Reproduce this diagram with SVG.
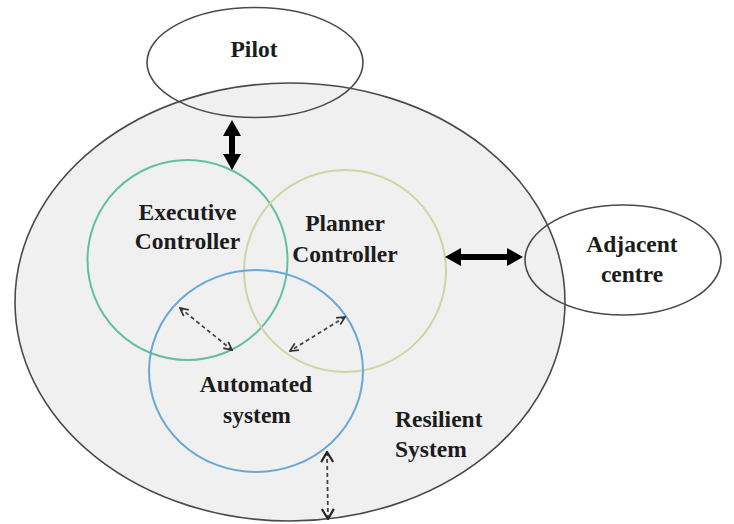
<svg xmlns="http://www.w3.org/2000/svg" width="734" height="524" viewBox="0 0 734 524">
  <style>
    .lbl { font-family: "Liberation Serif", "Times New Roman", serif; font-weight: bold; font-size: 23.5px; fill: #1c1c1c; }
    .outline { fill: none; stroke: #4a4a4a; stroke-width: 1.6; }
    .ring { fill: none; stroke-width: 2; }
    .thick { stroke: #000; stroke-width: 6; fill: none; }
    .dash { stroke: #454545; stroke-width: 1.8; stroke-dasharray: 4 3; fill: none; }
  </style>
  <defs>
    <marker id="solidHead" markerUnits="userSpaceOnUse" viewBox="0 0 16 18" refX="5" refY="9" markerWidth="16" markerHeight="18" orient="auto-start-reverse">
      <path d="M0,0 L16,9 L0,18 z" fill="#000"/>
    </marker>
    <marker id="openHead" markerUnits="userSpaceOnUse" viewBox="0 0 10 10" refX="9" refY="5" markerWidth="10" markerHeight="10" orient="auto-start-reverse">
      <path d="M1,1 L9,5 L1,9" fill="none" stroke="#333" stroke-width="1.7"/>
    </marker>
    <marker id="openHeadLg" markerUnits="userSpaceOnUse" viewBox="0 0 12 14" refX="11" refY="7" markerWidth="12" markerHeight="14" orient="auto-start-reverse">
      <path d="M1,1 L11,7 L1,13" fill="none" stroke="#262626" stroke-width="2.2"/>
    </marker>
  </defs>

  <rect width="734" height="524" fill="#ffffff"/>

  <!-- outer system boundary -->
  <g id="resilient-system">
    <ellipse cx="290" cy="302" rx="275" ry="219" fill="#f0f0f0" stroke="#4a4a4a" stroke-width="1.6"/>
    <text class="lbl" x="395" y="427">Resilient</text>
    <text class="lbl" x="395" y="457">System</text>
  </g>

  <g id="executive-controller">
    <circle class="ring" cx="187.5" cy="260" r="100" stroke="#62c09c"/>
    <text class="lbl" x="187.5" y="220" text-anchor="middle">Executive</text>
    <text class="lbl" x="187.5" y="249" text-anchor="middle">Controller</text>
  </g>

  <g id="planner-controller">
    <circle class="ring" cx="345" cy="271" r="101" stroke="#cfd4a4"/>
    <text class="lbl" x="345" y="231" text-anchor="middle">Planner</text>
    <text class="lbl" x="345" y="262" text-anchor="middle">Controller</text>
  </g>

  <g id="automated-system">
    <ellipse class="ring" cx="256" cy="371" rx="107" ry="101" stroke="#68a8d6"/>
    <text class="lbl" x="256" y="392" text-anchor="middle">Automated</text>
    <text class="lbl" x="257" y="423" text-anchor="middle">system</text>
  </g>

  <g id="pilot">
    <ellipse class="outline" cx="255" cy="62.5" rx="108" ry="55"/>
    <text class="lbl" x="254" y="57" text-anchor="middle" font-size="24.5">Pilot</text>
  </g>

  <g id="adjacent-centre">
    <ellipse class="outline" cx="623" cy="260" rx="98" ry="55"/>
    <text class="lbl" x="632" y="252" text-anchor="middle">Adjacent</text>
    <text class="lbl" x="632" y="282" text-anchor="middle">centre</text>
  </g>

  <g id="connectors">
    <line class="thick" x1="232" y1="131" x2="232" y2="159" marker-start="url(#solidHead)" marker-end="url(#solidHead)"/>
    <line class="thick" x1="456" y1="257" x2="512" y2="257" marker-start="url(#solidHead)" marker-end="url(#solidHead)"/>
    <line class="dash" x1="180" y1="308" x2="232" y2="350" marker-start="url(#openHead)" marker-end="url(#openHead)"/>
    <line class="dash" x1="345" y1="317" x2="290" y2="351" marker-start="url(#openHead)" marker-end="url(#openHead)"/>
    <line class="dash" x1="327" y1="452" x2="328" y2="519" stroke-width="2.3" stroke-dasharray="5 4" marker-start="url(#openHeadLg)" marker-end="url(#openHeadLg)"/>
  </g>
</svg>
